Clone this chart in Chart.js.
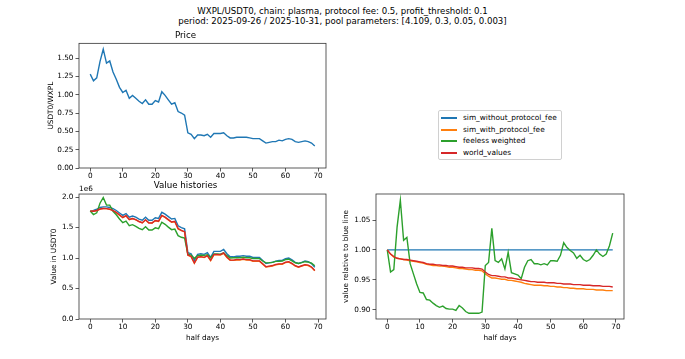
<!DOCTYPE html>
<html>
<head>
<meta charset="utf-8">
<script src="https://cdn.jsdelivr.net/npm/chart.js@4.4.0/dist/chart.umd.min.js"></script>
<style>
    body { margin: 0; background: #fff; width: 685px; height: 359px; position: relative; overflow: hidden; font-family: "DejaVu Sans", sans-serif; }
    canvas { position: absolute; }
    #suptitle { position: absolute; left: 0; top: 5.8px; width: 685px; text-align: center; font-size: 8.6px; line-height: 10.4px; color: #000; }
    #legend { position: absolute; left: 438px; top: 110px; width: 122px; padding: 1px 0; border: 1px solid #d0d0d0; border-radius: 2px; background: #fff; font-size: 7.4px; color: #000; }
    .row { height: 11.6px; line-height: 11.6px; position: relative; padding-left: 24px; white-space: nowrap; }
    .row span { position: absolute; left: 2px; top: 5px; width: 16px; height: 2px; }
</style>
</head>
<body>
<div id="suptitle">WXPL/USDT0, chain: plasma, protocol fee: 0.5, profit_threshold: 0.1<br>period: 2025-09-26 / 2025-10-31, pool parameters: [4.109, 0.3, 0.05, 0.003]</div>
<div id="legend"></div>
<canvas id="priceChart" width="340" height="160" style="left:0;top:25px"></canvas>
<canvas id="valueChart" width="340" height="181" style="left:0;top:178px"></canvas>
<canvas id="relChart" width="345" height="181" style="left:340px;top:178px"></canvas>
<script>
// ticks
const xTicks = [0, 10, 20, 30, 40, 50, 60, 70];
const priceTicks = [0, 0.25, 0.5, 0.75, 1.0, 1.25, 1.5];
const valueTicks = [0, 0.5, 1.0, 1.5, 2.0];
const relTicks = [0.90, 0.95, 1.00, 1.05];

const seriesNames = ['sim_without_protocol_fee', 'sim_with_protocol_fee', 'feeless weighted', 'world_values'];
const seriesColors = ['#1f77b4', '#ff7f0e', '#2ca02c', '#d62728'];

// USDT0 per WXPL, one point per half day
const price = [1.28, 1.19, 1.23, 1.45, 1.62, 1.43, 1.46, 1.31, 1.21, 1.10,
    1.03, 1.06, 0.95, 0.99, 0.95, 0.91, 0.88, 0.93, 0.87, 0.87,
    0.92, 0.90, 1.04, 0.99, 0.93, 0.87, 0.89, 0.77, 0.75, 0.72,
    0.48, 0.46, 0.40, 0.45, 0.45, 0.44, 0.46, 0.42, 0.47, 0.47,
    0.47, 0.48, 0.44, 0.41, 0.41, 0.42, 0.42, 0.42, 0.42, 0.41,
    0.40, 0.40, 0.40, 0.37, 0.34, 0.35, 0.36, 0.36, 0.38, 0.37,
    0.39, 0.40, 0.39, 0.36, 0.35, 0.36, 0.37, 0.36, 0.34, 0.30];

// value histories, in millions of USDT0 (axis shows 1e6)
const valueNoFee = [1.77, 1.78, 1.80, 1.83, 1.84, 1.84, 1.83, 1.81, 1.78, 1.74,
    1.70, 1.73, 1.67, 1.69, 1.67, 1.64, 1.62, 1.67, 1.62, 1.62,
    1.66, 1.65, 1.75, 1.72, 1.68, 1.64, 1.65, 1.53, 1.50, 1.48,
    1.09, 1.07, 0.96, 1.06, 1.07, 1.06, 1.09, 1.01, 1.11, 1.11,
    1.11, 1.14, 1.07, 1.02, 1.02, 1.03, 1.03, 1.04, 1.03, 1.03,
    1.01, 1.01, 1.01, 0.96, 0.91, 0.92, 0.93, 0.95, 0.96, 0.96,
    0.99, 1.00, 0.97, 0.93, 0.91, 0.93, 0.95, 0.94, 0.91, 0.85];
const valueFee = [1.770, 1.768, 1.778, 1.804, 1.812, 1.811, 1.799, 1.777, 1.746, 1.705,
    1.664, 1.692, 1.630, 1.648, 1.627, 1.597, 1.576, 1.625, 1.575, 1.573,
    1.612, 1.601, 1.696, 1.667, 1.626, 1.586, 1.596, 1.478, 1.449, 1.428,
    1.046, 1.023, 0.915, 1.010, 1.019, 1.008, 1.037, 0.958, 1.053, 1.052,
    1.051, 1.078, 1.010, 0.962, 0.961, 0.969, 0.969, 0.979, 0.968, 0.968,
    0.948, 0.948, 0.947, 0.900, 0.853, 0.862, 0.870, 0.889, 0.898, 0.898,
    0.926, 0.934, 0.906, 0.869, 0.849, 0.868, 0.886, 0.876, 0.848, 0.792];
const valueFeeless = [1.770, 1.714, 1.741, 1.900, 1.993, 1.869, 1.868, 1.768, 1.709, 1.641,
    1.579, 1.605, 1.531, 1.548, 1.521, 1.487, 1.464, 1.513, 1.461, 1.460,
    1.496, 1.483, 1.587, 1.553, 1.507, 1.466, 1.475, 1.368, 1.341, 1.326,
    1.062, 1.048, 0.995, 1.041, 1.048, 1.044, 1.055, 1.006, 1.068, 1.066,
    1.063, 1.085, 1.039, 1.002, 1.004, 1.006, 1.006, 1.014, 1.006, 1.004,
    0.992, 0.992, 0.991, 0.951, 0.921, 0.924, 0.929, 0.945, 0.947, 0.951,
    0.974, 0.981, 0.954, 0.922, 0.910, 0.924, 0.940, 0.933, 0.916, 0.874];
const valueWorld = [1.770, 1.768, 1.780, 1.804, 1.812, 1.811, 1.801, 1.779, 1.748, 1.707,
    1.666, 1.694, 1.632, 1.649, 1.630, 1.599, 1.580, 1.627, 1.578, 1.576,
    1.615, 1.604, 1.699, 1.670, 1.630, 1.591, 1.601, 1.483, 1.454, 1.433,
    1.050, 1.026, 0.919, 1.014, 1.023, 1.012, 1.041, 0.963, 1.058, 1.057,
    1.056, 1.083, 1.015, 0.967, 0.966, 0.975, 0.974, 0.984, 0.974, 0.973,
    0.954, 0.954, 0.953, 0.906, 0.858, 0.868, 0.877, 0.895, 0.904, 0.904,
    0.932, 0.941, 0.913, 0.874, 0.855, 0.874, 0.892, 0.883, 0.854, 0.797];

// same histories divided by the blue line
const relNoFee = [1, 1, 1, 1, 1, 1, 1, 1, 1, 1,
    1, 1, 1, 1, 1, 1, 1, 1, 1, 1,
    1, 1, 1, 1, 1, 1, 1, 1, 1, 1,
    1, 1, 1, 1, 1, 1, 1, 1, 1, 1,
    1, 1, 1, 1, 1, 1, 1, 1, 1, 1,
    1, 1, 1, 1, 1, 1, 1, 1, 1, 1,
    1, 1, 1, 1, 1, 1, 1, 1, 1, 1];
const relFee = [1.000, 0.993, 0.988, 0.986, 0.985, 0.984, 0.983, 0.982, 0.981, 0.980,
    0.979, 0.978, 0.976, 0.975, 0.974, 0.974, 0.973, 0.973, 0.972, 0.971,
    0.971, 0.970, 0.969, 0.969, 0.968, 0.967, 0.967, 0.966, 0.966, 0.965,
    0.960, 0.956, 0.953, 0.953, 0.952, 0.951, 0.951, 0.949, 0.949, 0.948,
    0.947, 0.946, 0.944, 0.943, 0.942, 0.941, 0.941, 0.941, 0.940, 0.940,
    0.939, 0.939, 0.938, 0.938, 0.937, 0.937, 0.936, 0.936, 0.935, 0.935,
    0.935, 0.934, 0.934, 0.934, 0.933, 0.933, 0.933, 0.932, 0.932, 0.932];
const relFeeless = [1.000, 0.963, 0.967, 1.038, 1.083, 1.016, 1.021, 0.977, 0.960, 0.943,
    0.929, 0.928, 0.917, 0.916, 0.911, 0.907, 0.904, 0.906, 0.902, 0.901,
    0.901, 0.899, 0.907, 0.903, 0.897, 0.894, 0.894, 0.894, 0.894, 0.896,
    0.974, 0.979, 1.036, 0.982, 0.979, 0.985, 0.968, 0.996, 0.962, 0.960,
    0.958, 0.952, 0.971, 0.982, 0.984, 0.977, 0.977, 0.975, 0.977, 0.975,
    0.982, 0.982, 0.981, 0.991, 1.012, 1.004, 0.999, 0.995, 0.986, 0.991,
    0.984, 0.981, 0.984, 0.991, 1.000, 0.993, 0.989, 0.993, 1.007, 1.028];
const relWorld = [1.000, 0.993, 0.989, 0.986, 0.985, 0.984, 0.984, 0.983, 0.982, 0.981,
    0.980, 0.979, 0.977, 0.976, 0.976, 0.975, 0.975, 0.974, 0.974, 0.973,
    0.973, 0.972, 0.971, 0.971, 0.970, 0.970, 0.970, 0.969, 0.969, 0.968,
    0.963, 0.959, 0.957, 0.957, 0.956, 0.955, 0.955, 0.953, 0.953, 0.952,
    0.951, 0.950, 0.949, 0.948, 0.947, 0.947, 0.946, 0.946, 0.946, 0.945,
    0.945, 0.945, 0.944, 0.944, 0.943, 0.943, 0.943, 0.942, 0.942, 0.942,
    0.941, 0.941, 0.941, 0.940, 0.940, 0.940, 0.939, 0.939, 0.939, 0.938];

Chart.defaults.font.family = '"DejaVu Sans", sans-serif';
Chart.defaults.color = '#000';

const tickFont = { size: 7.3 };
const labelFont = { size: 7.3 };
const titleFont = { size: 8.7, weight: 'normal' };

// matplotlib draws a frame around every axes
const framePlugin = {
    id: 'frame',
    afterDraw(chart) {
        const { ctx, chartArea: a } = chart;
        ctx.save();
        ctx.strokeStyle = '#333';
        ctx.lineWidth = 0.8;
        ctx.strokeRect(a.left, a.top, a.right - a.left, a.bottom - a.top);
        ctx.restore();
    }
};

const offsetPlugin = {
    id: 'offsetText',
    afterDraw(chart) {
        const { ctx, chartArea: a } = chart;
        ctx.save();
        ctx.fillStyle = '#000';
        ctx.font = '7.3px "DejaVu Sans"';
        ctx.textBaseline = 'alphabetic';
        ctx.fillText('1e6', a.left, a.top - 3);
        ctx.restore();
    }
};

function line(values, idx, order) {
    return {
        label: seriesNames[idx],
        data: values.map((v, i) => ({ x: i, y: v })),
        borderColor: seriesColors[idx],
        borderWidth: 1.4,
        pointRadius: 0,
        tension: 0,
        order: order
    };
}

function scales(opt) {
    return {
        x: {
            type: 'linear',
            min: -3.45,
            max: 72.45,
            afterBuildTicks: s => { s.ticks = xTicks.map(v => ({ value: v })); },
            afterFit: s => { s.height = opt.xTitle ? 40 : 17; },
            grid: { drawOnChartArea: false, tickLength: 3.5, color: '#333', lineWidth: 0.8 },
            border: { display: false },
            ticks: { padding: 0, autoSkip: false, maxRotation: 0, font: tickFont, callback: v => String(v) },
            title: { display: !!opt.xTitle, text: opt.xTitle, font: labelFont, padding: { top: 0, bottom: 16.6 } }
        },
        y: {
            min: opt.yMin,
            max: opt.yMax,
            afterBuildTicks: s => { s.ticks = opt.yTicks.map(v => ({ value: v })); },
            afterFit: s => { s.width = opt.yWidth; },
            grid: { drawOnChartArea: false, tickLength: 3.5, color: '#333', lineWidth: 0.8 },
            border: { display: false },
            ticks: { padding: 2, autoSkip: false, font: tickFont, callback: v => v.toFixed(opt.digits) },
            title: { display: true, text: opt.yTitle, font: labelFont, padding: { top: opt.yTitlePad, bottom: 0 } }
        }
    };
}

new Chart(document.getElementById('priceChart'), {
    type: 'line',
    data: { datasets: [line(price, 0, 0)] },
    options: {
        responsive: false,
        animation: false,
        layout: { padding: { left: 45, right: 14, top: 0, bottom: 0 } },
        plugins: {
            legend: { display: false },
            tooltip: { enabled: false },
            title: { display: true, text: 'Price', font: titleFont, color: '#000', padding: { top: 5.8, bottom: 2.1 } }
        },
        scales: scales({ yMin: 0, yMax: 1.70, yTicks: priceTicks, digits: 2, yTitle: 'USDT0/WXPL', yWidth: 34, yTitlePad: 1.6 })
    },
    plugins: [framePlugin]
});

new Chart(document.getElementById('valueChart'), {
    type: 'line',
    data: {
        datasets: [
            line(valueNoFee, 0, 3),
            line(valueFee, 1, 2),
            line(valueFeeless, 2, 1),
            line(valueWorld, 3, 0)
        ]
    },
    options: {
        responsive: false,
        animation: false,
        layout: { padding: { left: 45, right: 14, top: 0, bottom: 0 } },
        plugins: {
            legend: { display: false },
            tooltip: { enabled: false },
            title: { display: true, text: 'Value histories', font: titleFont, color: '#000', padding: { top: 2.8, bottom: 2.8 } }
        },
        scales: scales({ xTitle: 'half days', yMin: 0, yMax: 2.05, yTicks: valueTicks, digits: 1, yTitle: 'Value in USDT0', yWidth: 34, yTitlePad: 4.6 })
    },
    plugins: [framePlugin, offsetPlugin]
});

new Chart(document.getElementById('relChart'), {
    type: 'line',
    data: {
        datasets: [
            line(relNoFee, 0, 3),
            line(relFee, 1, 2),
            line(relFeeless, 2, 1),
            line(relWorld, 3, 0)
        ]
    },
    options: {
        responsive: false,
        animation: false,
        layout: { padding: { left: 0, right: 61, top: 16, bottom: 0 } },
        plugins: { legend: { display: false }, tooltip: { enabled: false } },
        scales: scales({ xTitle: 'half days', yMin: 0.8845, yMax: 1.0935, yTicks: relTicks, digits: 2, yTitle: 'value relative to blue line', yWidth: 36, yTitlePad: 1.6 })
    },
    plugins: [framePlugin]
});

// legend sits in the otherwise empty top-right panel
const legend = document.getElementById('legend');
seriesNames.forEach((name, i) => {
    const row = document.createElement('div');
    row.className = 'row';
    row.innerHTML = `<span style="background:${seriesColors[i]}"></span>${name}`;
    legend.appendChild(row);
});
</script>
</body>
</html>
